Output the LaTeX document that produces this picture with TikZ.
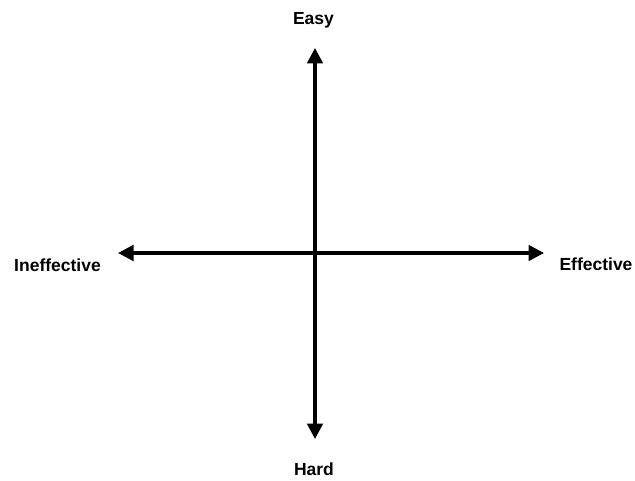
\documentclass[tikz,border=0pt]{standalone}
\usepackage{fontspec}
\setmainfont{Liberation Sans}
\usetikzlibrary{arrows.meta}
\begin{document}
\begin{tikzpicture}[x=1pt,y=1pt,
  axis/.style={line width=3.5pt,{Triangle[width=15.5pt,length=15.5pt]}-{Triangle[width=15.5pt,length=15.5pt]}},
  lbl/.style={font=\fontsize{17.5}{20}\selectfont\bfseries,inner sep=0pt,anchor=base}]
\useasboundingbox (0,0) rectangle (635,480);
\coordinate (top) at (315,432);
\coordinate (bottom) at (315,41);
\coordinate (left) at (118,227);
\coordinate (right) at (544,227);
\draw[axis] (bottom) -- (top);
\draw[axis] (left) -- (right);
\node[lbl] (easy) at (313.5,455.7) {Easy};
\node[lbl] (hard) at (314,4.3) {Hard};
\node[lbl] (ineff) at (57.5,208.3) {Ineffective};
\node[lbl] (eff) at (596,209) {Effective};
\end{tikzpicture}
\end{document}
